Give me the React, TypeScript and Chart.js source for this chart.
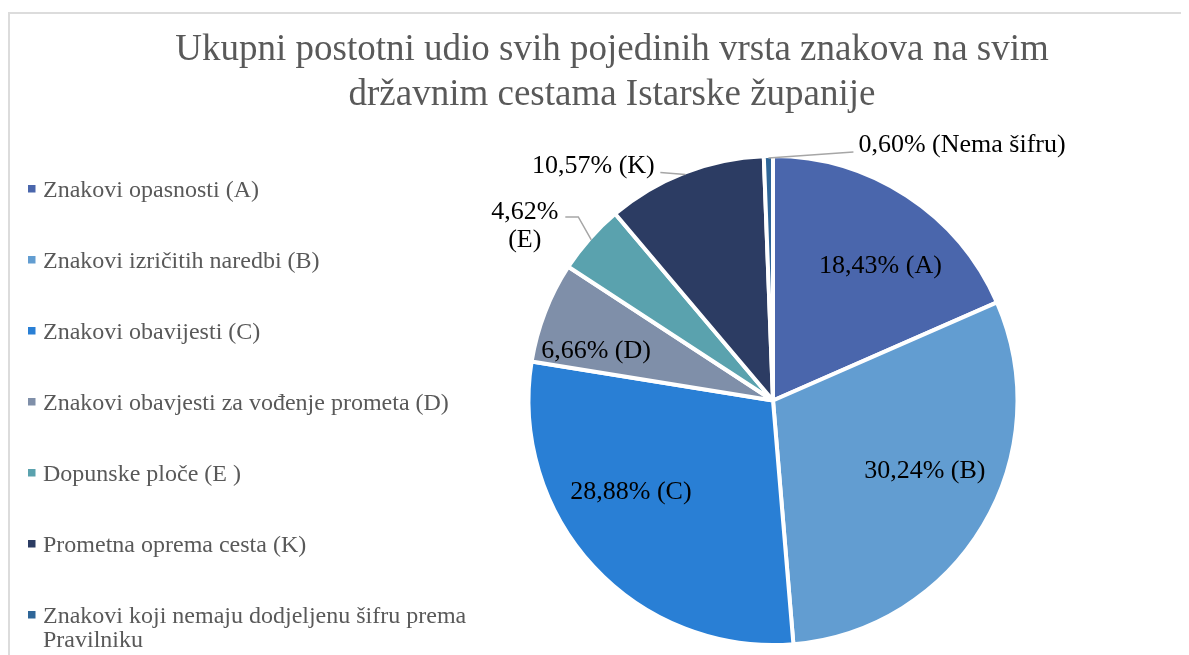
import React, { useEffect, useRef } from 'react';
import { Chart, registerables } from 'chart.js';

Chart.register(...registerables);

const titleLines = [
  'Ukupni postotni udio svih pojedinih vrsta znakova na svim',
  'državnim cestama Istarske županije',
];

const categories = [
  'Znakovi opasnosti (A)',
  'Znakovi izričitih naredbi (B)',
  'Znakovi obavijesti (C)',
  'Znakovi obavjesti za vođenje prometa (D)',
  'Dopunske ploče (E )',
  'Prometna oprema cesta (K)',
  'Znakovi koji nemaju dodjeljenu šifru prema Pravilniku',
];

const shares = [18.43, 30.24, 28.88, 6.66, 4.62, 10.57, 0.6];

const codes = ['A', 'B', 'C', 'D', 'E', 'K', 'Nema šifru'];

const sliceColors = ['#4A66AC', '#629DD1', '#297FD5', '#7F8FA9', '#5AA2AE', '#2C3C63', '#2F6698'];

type LabelStyle = {
  kind: 'inside' | 'outside';
  dx: number;
  dy: number;
  align?: CanvasTextAlign;
  leader?: [number, number][];
  wrap?: boolean;
};

// label placement relative to slice geometry (inside: 0.7R mid point; outside: outer edge mid point)
const labelStyles: LabelStyle[] = [
  { kind: 'inside', dx: 14.6, dy: 5.6 },
  { kind: 'inside', dx: 6, dy: -18 },
  { kind: 'inside', dx: -17.5, dy: -25 },
  { kind: 'inside', dx: -18.7, dy: 9.8 },
  { kind: 'outside', dx: -66.5, dy: -16, align: 'center', leader: [[-13, -23], [-26, -23]], wrap: true },
  { kind: 'outside', dx: -92, dy: -9.5, align: 'center', leader: [[-25, -2]] },
  { kind: 'outside', dx: 90, dy: -15, align: 'left', leader: [[85, -6]] },
];

const SERIF = '"Liberation Serif", "Times New Roman", serif';

function wrapText(ctx: CanvasRenderingContext2D, text: string, maxW: number): string[] {
  const words = text.split(' ');
  const lines: string[] = [];
  let cur = '';
  for (const w of words) {
    const test = cur ? cur + ' ' + w : w;
    if (ctx.measureText(test).width > maxW && cur) {
      lines.push(cur);
      cur = w;
    } else cur = test;
  }
  if (cur) lines.push(cur);
  return lines;
}

const decorPlugin = {
  id: 'decor',
  afterDraw(chart: any) {
    const ctx: CanvasRenderingContext2D = chart.ctx;
    ctx.save();
    // Title
    ctx.fillStyle = '#595959';
    ctx.font = `37px ${SERIF}`;
    ctx.textAlign = 'center';
    ctx.textBaseline = 'alphabetic';
    titleLines.forEach((t, i) => ctx.fillText(t, 604, 52 + i * 45));

    // Legend
    ctx.font = `24px ${SERIF}`;
    ctx.textAlign = 'left';
    let y = 189;
    categories.forEach((c, i) => {
      const lines = wrapText(ctx, c, 435);
      ctx.fillStyle = sliceColors[i];
      ctx.fillRect(20, y - 12, 7.5, 7.5);
      ctx.fillStyle = '#595959';
      lines.forEach((l, j) => ctx.fillText(l, 35, y + j * 24));
      y += 71;
    });

    // Data labels
    const meta = chart.getDatasetMeta(0);
    const fs = 26;
    ctx.font = `${fs}px ${SERIF}`;
    meta.data.forEach((arc: any, i: number) => {
      const p = arc.getProps(['x', 'y', 'startAngle', 'endAngle', 'outerRadius'], true);
      const mid = (p.startAngle + p.endAngle) / 2;
      const st = labelStyles[i];
      const pct = shares[i].toFixed(2).replace('.', ',') + '%';
      const codeTxt = '(' + codes[i] + ')';
      const lines = st.wrap ? [pct, codeTxt] : [pct + ' ' + codeTxt];
      const r = st.kind === 'inside' ? (p.outerRadius - 2) * 0.7 : p.outerRadius - 2;
      const ax = p.x + r * Math.cos(mid);
      const ay = p.y + r * Math.sin(mid);
      if (st.leader) {
        ctx.strokeStyle = '#A6A6A6';
        ctx.lineWidth = 1.5;
        ctx.beginPath();
        ctx.moveTo(ax, ay);
        st.leader.forEach(([lx, ly]) => ctx.lineTo(ax + lx, ay + ly));
        ctx.stroke();
      }
      ctx.fillStyle = '#000000';
      ctx.textAlign = st.align || 'center';
      const cx = ax + st.dx;
      const cy = ay + st.dy;
      const lh = 28;
      lines.forEach((l, j) => {
        const ly = cy + (j - (lines.length - 1) / 2) * lh;
        ctx.fillText(l, cx, ly + fs * 0.331);
      });
    });
    ctx.restore();
  },
};

export default function App() {
  const ref = useRef<HTMLCanvasElement>(null);
  useEffect(() => {
    document.documentElement.style.overflow = 'hidden';
    document.body.style.overflow = 'hidden';
    const chart = new Chart(ref.current as HTMLCanvasElement, {
      type: 'pie',
      data: {
        labels: categories,
        datasets: [
          {
            data: shares,
            backgroundColor: sliceColors,
            borderColor: '#FFFFFF',
            borderWidth: 4,
          },
        ],
      },
      options: {
        responsive: false,
        animation: false,
        devicePixelRatio: 1,
        radius: 244.5,
        layout: { padding: { left: 515, right: 166, top: 142.5, bottom: 4.5 } },
        plugins: {
          legend: { display: false },
          title: { display: false },
          tooltip: { enabled: false },
        },
      } as any,
      plugins: [decorPlugin],
    });
    return () => chart.destroy();
  }, []);

  return (
    <div style={{ position: 'relative', width: 1181, height: 647, overflow: 'hidden' }}>
      <div
        style={{
          position: 'absolute',
          left: 0,
          top: 4,
          width: 1400,
          height: 900,
          borderTop: '2px solid #DCDCDC',
          borderLeft: '2px solid #DCDCDC',
        }}
      />
      <canvas
        ref={ref}
        width={1181}
        height={647}
        style={{ position: 'absolute', left: 0, top: 0, width: 1181, height: 647 }}
      />
    </div>
  );
}
